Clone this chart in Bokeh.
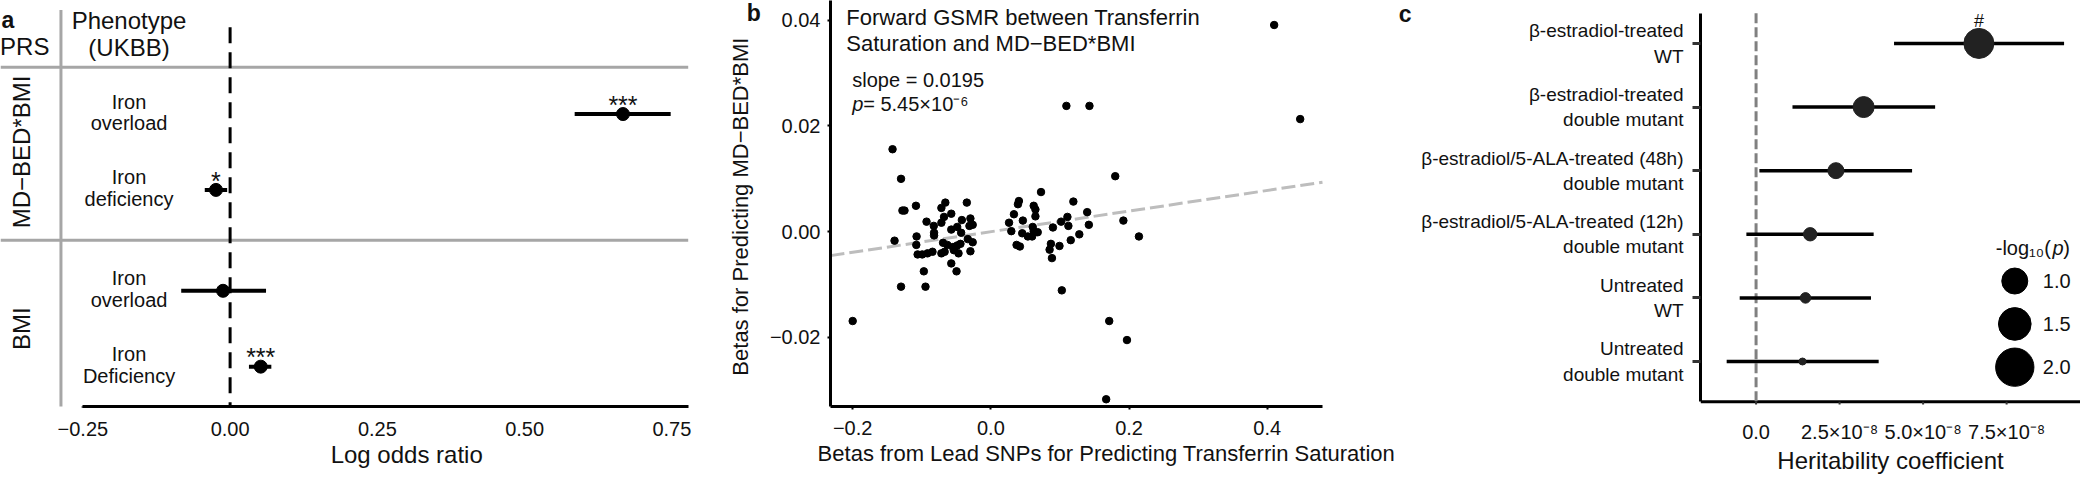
import math
from bokeh.plotting import figure
from bokeh.models import Range1d, FixedTicker, Label, Title
from bokeh.layouts import row
from bokeh.embed import file_html
from bokeh.resources import INLINE
from bokeh.core.properties import value

FONT = "Liberation Sans"
INK = "#111111"
TOTAL_W, TOTAL_H = 2080, 476
SX, SY = TOTAL_W / 2100.0, TOTAL_H / 494.0

# ---------------- Panel a data ----------------
a_prs = ["MD−BED*BMI", "MD−BED*BMI", "BMI", "BMI"]
a_pheno = ["Iron overload", "Iron deficiency", "Iron overload", "Iron Deficiency"]
a_est = [0.667, -0.024, -0.012, 0.052]
a_lo = [0.585, -0.043, -0.083, 0.032]
a_hi = [0.748, -0.005, 0.061, 0.070]
a_sig = ["***", "*", "", "***"]
a_ticks = [-0.25, 0.0, 0.25, 0.50, 0.75]
a_tick_labels = ["−0.25", "0.00", "0.25", "0.50", "0.75"]

# ---------------- Panel b data ----------------
b_x = [-0.1423, -0.130, -0.128, -0.125, -0.1084, -0.1394, -0.1075, -0.1079, -0.106, -0.0993,
       -0.0917, -0.0845, -0.0931, -0.0826, -0.0822, -0.0822, -0.097, -0.130, -0.0946, -0.0659,
       -0.0716, -0.0573, -0.0678, -0.0716, -0.0348, -0.042, -0.0296, -0.031, -0.0263, -0.0573,
       -0.0487, -0.043, -0.0334, -0.0263, -0.0692, -0.063, -0.0549, -0.0487, -0.044, -0.0535,
       -0.0468, -0.0716, -0.0669, -0.0296, -0.0573, -0.0497, -0.200,
       0.1800, 0.0726, 0.0406, 0.0392, 0.0620, 0.0645, 0.0645, 0.0334, 0.0263, 0.0463,
       0.0296, 0.0454, 0.0606, 0.0620, 0.0678, 0.0535, 0.0597, 0.0372, 0.0420, 0.0898,
       0.1017, 0.1108, 0.1122, 0.1194, 0.1394, 0.1418, 0.1280, 0.1156, 0.0869, 0.0850,
       0.0993, 0.0884, 0.1027,
       0.1093, 0.1427, 0.4100, 0.4477, 0.1918, 0.2143, 0.1713, 0.1970, 0.1669]
b_y = [0.0156, 0.0100, 0.0040, 0.0040, 0.0049, -0.0017, -0.0009, -0.0025, -0.0043, -0.0043,
       -0.0041, -0.0038, 0.0019, 0.0011, -0.0002, -0.0007, -0.0075, -0.0104, -0.0104, 0.0055,
       0.0045, 0.0034, 0.0028, 0.0017, 0.0055, 0.0022, 0.0025, 0.0011, 0.0013, 0.0004,
       0.0009, -0.0002, -0.0014, -0.0020, -0.0021, -0.0025, -0.0029, -0.0026, -0.0023, -0.0035,
       -0.0041, -0.0041, -0.0038, -0.0037, -0.0060, -0.0075, -0.0169,
       0.0105, 0.0075, 0.0058, 0.0052, 0.0049, 0.0042, 0.0029, 0.0033, 0.0017, 0.0021,
       0.0001, -0.0003, 0.0009, 0.0001, -0.0001, -0.0009, -0.0009, -0.0025, -0.0028, 0.0008,
       0.0019, 0.0028, 0.0011, 0.0057, 0.0037, 0.0013, -0.0005, -0.0016, -0.0023, -0.0034,
       -0.0027, -0.0050, -0.0111,
       0.0238, 0.0238, 0.0391, 0.0213, 0.0021, -0.0009, -0.0169, -0.0205, -0.0317]
b_slope = 0.0195
b_intercept = 0.0
b_p_text = " = 5.45×10⁻⁶"
b_xticks = [-0.2, 0.0, 0.2, 0.4]
b_xtick_labels = ["−0.2", "0.0", "0.2", "0.4"]
b_yticks = [-0.02, 0.0, 0.02, 0.04]
b_ytick_labels = ["−0.02", "0.00", "0.02", "0.04"]
b_xlabel = "Betas from Lead SNPs for Predicting Transferrin Saturation"
b_ylabel = "Betas for Predicting MD−BED*BMI"

# ---------------- Panel c data (coefficients in units of 1e-8) ----------------
c_groups = ["β-estradiol-treated\nWT",
            "β-estradiol-treated\ndouble mutant",
            "β-estradiol/5-ALA-treated (48h)\ndouble mutant",
            "β-estradiol/5-ALA-treated (12h)\ndouble mutant",
            "Untreated\nWT",
            "Untreated\ndouble mutant"]
c_est = [6.67, 3.22, 2.39, 1.62, 1.48, 1.39]
c_lo = [4.13, 1.09, 0.10, -0.29, -0.49, -0.88]
c_hi = [9.22, 5.36, 4.67, 3.52, 3.44, 3.67]
c_neglog10p = [1.29, 0.69, 0.44, 0.33, 0.23, 0.13]
c_flag = ["#", "", "", "", "", ""]
c_legend_vals = [1.0, 1.5, 2.0]
c_xticks = [0.0, 2.5, 5.0, 7.5]
c_xtick_labels = ["0.0", "2.5×10⁻⁸", "5.0×10⁻⁸", "7.5×10⁻⁸"]


# ---------------- layout helpers (reference-pixel geometry) ----------------
BORDER_BOTTOM = 66
FH = TOTAL_H - BORDER_BOTTOM
FRAME_TOP_REF, FRAME_BOTTOM_REF = 0.0, FH / SY
# figure boundaries (reference px)
A_LEFT, B_LEFT, C_LEFT, RIGHT = 0, 772, 1432, 2100


def fig_geom(left_ref, frame_left_ref, right_ref):
    fl = round(left_ref * SX)
    fr = round(right_ref * SX)
    bl = round(frame_left_ref * SX) - fl
    return fr - fl, bl


def base_style(p):
    p.xgrid.visible = False
    p.ygrid.visible = False
    p.outline_line_color = None
    p.background_fill_color = "white"
    p.border_fill_color = "white"


def style_axis(ax, tick_out=3, standoff=5, label_size="20px"):
    ax.axis_line_color = "black"
    ax.axis_line_width = 3
    ax.major_tick_line_color = "black"
    ax.major_tick_line_width = 2
    ax.major_tick_out = tick_out
    ax.major_tick_in = 0
    ax.minor_tick_line_color = None
    ax.major_label_text_font = FONT
    ax.major_label_text_font_size = label_size
    ax.major_label_text_color = INK
    ax.major_label_standoff = standoff
    ax.axis_label_text_font = FONT
    ax.axis_label_text_font_style = "normal"
    ax.axis_label_text_color = INK


def below_title(p, text, offset, standoff, size):
    p.add_layout(Title(text=text, align="left", offset=offset, standoff=standoff,
                       text_font=FONT, text_font_size=size, text_font_style="normal",
                       text_color=INK), "below")


def label(p, x, y, text, size="20px", align="left", baseline="alphabetic", style="normal"):
    p.add_layout(Label(x=x, y=y, x_units="data", y_units="data", text=text,
                       text_font=FONT, text_font_size=size, text_align=align,
                       text_baseline=baseline, text_font_style=style, text_color=INK))


def gtext(p, x, y, text, size, align="center", style="normal", angle=0.0):
    p.text(x=x, y=y, text=text, text_font=value(FONT), text_font_size=size,
           text_align=align, text_baseline="middle", text_font_style=style,
           text_color=INK, angle=angle)


# ======================= Panel a =======================
def ax_(xr):
    return (xr - 231.7) / 148.6 * 0.25


def ay_(yr):
    return (yr - 119.0) / 79.5 + 1.0


A_UNIT = 79.5
a_row_y = []
pos, prev = 1.0, None
for g in a_prs:
    if prev is not None:
        pos += 1.0 if g == prev else 1.33
    a_row_y.append(pos)
    prev = g
groups = []
for g in a_prs:
    if g not in groups:
        groups.append(g)
group_centers = [sum(y for y, gg in zip(a_row_y, a_prs) if gg == g) /
                 sum(1 for gg in a_prs if gg == g) for g in groups]
group_seps = [a_row_y[0] - 0.616] + [(a_row_y[i] + a_row_y[i + 1]) / 2
                                    for i in range(len(a_prs) - 1) if a_prs[i] != a_prs[i + 1]]

wa, bla = fig_geom(A_LEFT, A_LEFT, B_LEFT)
pa = figure(width=wa, height=TOTAL_H, x_range=Range1d(ax_(A_LEFT), ax_(B_LEFT)),
            y_range=Range1d(ay_(FRAME_BOTTOM_REF), ay_(FRAME_TOP_REF)),
            output_backend="svg", toolbar_location=None, x_axis_location="below",
            y_axis_location=None, min_border_left=bla, min_border_right=0,
            min_border_top=0, min_border_bottom=BORDER_BOTTOM)
base_style(pa)
style_axis(pa.xaxis[0], tick_out=1, standoff=14)
pa.xaxis.ticker = FixedTicker(ticks=a_ticks)
pa.xaxis.major_label_overrides = dict(zip(a_ticks, a_tick_labels))
pa.xaxis.bounds = (a_ticks[0], ax_(694))
pa.xaxis.axis_label = None
below_title(pa, "Log odds ratio", 333.3 * SX, 0, "24px")

pa.segment(x0=[ax_(0)] * len(group_seps), y0=group_seps, x1=[ax_(694)] * len(group_seps),
           y1=group_seps, line_color="#A6A6A6", line_width=3)
pa.segment(x0=[ax_(61)], y0=[ay_(10)], x1=[ax_(61)], y1=[ay_(427)], line_color="#A6A6A6",
           line_width=3)
pa.segment(x0=[0], y0=[ay_(28)], x1=[0], y1=[ay_(FRAME_BOTTOM_REF)], line_color="black",
           line_width=3, line_dash="16 9")
pa.segment(x0=a_lo, y0=a_row_y, x1=a_hi, y1=a_row_y, line_color="black", line_width=4)
pa.scatter(a_est, a_row_y, size=13, color="black")
gtext(pa, a_est, [r - 9.8 / A_UNIT for r in a_row_y], a_sig, "25px")

pheno_x = ax_(129.7)
line1 = [t.split(" ", 1)[0] for t in a_pheno]
line2 = [t.split(" ", 1)[1] for t in a_pheno]
gtext(pa, [pheno_x] * len(a_pheno), [r - 13.0 / A_UNIT for r in a_row_y], line1, "20px")
gtext(pa, [pheno_x] * len(a_pheno), [r + 9.8 / A_UNIT for r in a_row_y], line2, "20px")
gtext(pa, [pheno_x, pheno_x, ax_(24.5)], [ay_(21.3), ay_(48.8), ay_(48.3)],
      ["Phenotype", "(UKBB)", "PRS"], "24px")
gtext(pa, [ax_(21.5)] * len(groups), group_centers, groups, "24px", angle=math.pi / 2)
label(pa, ax_(1), ay_(20), "a", size="23px", style="bold")
# panel b's letter and y-axis title sit left of panel b's axis
gtext(pa, [ax_(753)], [ay_(13.5)], ["b"], "23px", align="left", style="bold")
gtext(pa, [ax_(746.7)], [ay_(216)], [b_ylabel], "22px", angle=math.pi / 2)

# ======================= Panel b =======================
def bx_(xr):
    return (xr - 1000.0) / 139.6 * 0.2


def by_(yr):
    return (242.3 - yr) / 110.8 * 0.02


wb, blb = fig_geom(B_LEFT, 838, C_LEFT)
bx0, bx1 = bx_(838), bx_(1335)
pb = figure(width=wb, height=TOTAL_H, x_range=Range1d(bx0, bx_(C_LEFT)),
            y_range=Range1d(by_(FRAME_BOTTOM_REF), by_(FRAME_TOP_REF)),
            output_backend="svg", toolbar_location=None, min_border_left=blb,
            min_border_right=0, min_border_top=0, min_border_bottom=BORDER_BOTTOM)
base_style(pb)
bxa, bya = pb.xaxis[0], pb.yaxis[0]
style_axis(bxa, tick_out=3, standoff=11)
style_axis(bya, tick_out=3, standoff=7)
bxa.bounds = (bx0, bx1)
bxa.ticker = FixedTicker(ticks=b_xticks)
bxa.major_label_overrides = dict(zip(b_xticks, b_xtick_labels))
bya.ticker = FixedTicker(ticks=b_yticks)
bya.major_label_overrides = dict(zip(b_yticks, b_ytick_labels))
bxa.axis_label = None
bya.axis_label = None
below_title(pb, b_xlabel, (825 - 838) * SX, 3, "22px")

pb.segment(x0=[bx0], y0=[b_intercept + b_slope * bx0], x1=[bx1], y1=[b_intercept + b_slope * bx1],
           line_color="#BDBDBD", line_width=3, line_dash="14 5")
pb.scatter(b_x, b_y, size=7.5, color="black")
label(pb, bx_(854), by_(18.3), "Forward GSMR between Transferrin", size="22px")
label(pb, bx_(854), by_(45.0), "Saturation and MD−BED*BMI", size="22px")
label(pb, bx_(860), by_(83.3), "slope = " + str(b_slope), size="20px")
label(pb, bx_(860), by_(108.3), "p", size="20px", style="italic")
label(pb, bx_(871), by_(108.3), b_p_text, size="20px")
# panel c's letter sits left of panel c's labels
gtext(pb, [bx_(1412)], [by_(14)], ["c"], "23px", align="left", style="bold")

# ======================= Panel c =======================
def cx_(xr):
    return (xr - 1770.7) / 84.77 * 2.5


def cy_(yr):
    return 6.0 - (yr - 45.0) / 66.67


C_UNIT = 66.67
wc, blc = fig_geom(C_LEFT, 1714.3, RIGHT)
wc = TOTAL_W - wa - wb
cx0, cx1 = cx_(1714.3), cx_(RIGHT)
c_axis_y = cy_(420.5)
c_y = [len(c_groups) - i for i in range(len(c_groups))]


def c_size(v):
    return 29.7 * math.sqrt(v) - 3.7


pc = figure(width=wc, height=TOTAL_H, x_range=Range1d(cx0, cx1),
            y_range=Range1d(cy_(FRAME_BOTTOM_REF), cy_(FRAME_TOP_REF)),
            output_backend="svg", toolbar_location=None, min_border_left=blc,
            min_border_right=0, min_border_top=0, min_border_bottom=BORDER_BOTTOM)
base_style(pc)
cxa, cya = pc.xaxis[0], pc.yaxis[0]
style_axis(cxa, tick_out=0, standoff=14)
cxa.axis_line_color = None
cxa.major_tick_line_color = None
style_axis(cya, tick_out=8, standoff=9, label_size="19px")
cya.major_tick_line_width = 3
cya.major_tick_line_color = "#333333"
cya.bounds = (c_axis_y, cy_(13.3))
cya.axis_label = None
cxa.ticker = FixedTicker(ticks=c_xticks)
cxa.major_label_overrides = dict(zip(c_xticks, c_xtick_labels))
cya.ticker = FixedTicker(ticks=c_y)
cya.major_label_overrides = dict(zip(c_y, c_groups))
cxa.axis_label = "Heritability coefficient"
cxa.axis_label_text_font_size = "24px"
cxa.axis_label_standoff = 1

pc.segment(x0=[cx0], y0=[c_axis_y], x1=[cx1], y1=[c_axis_y], line_color="black", line_width=3)
pc.segment(x0=c_xticks, y0=[c_axis_y] * len(c_xticks), x1=c_xticks,
           y1=[c_axis_y - 3.0 / C_UNIT] * len(c_xticks), line_color="#333333", line_width=2)
pc.segment(x0=[0], y0=[cy_(13.3)], x1=[0], y1=[c_axis_y], line_color="#808080", line_width=3,
           line_dash="10 4")
pc.segment(x0=c_lo, y0=c_y, x1=c_hi, y1=c_y, line_color="black", line_width=3.5)
pc.scatter(c_est, c_y, size=[c_size(v) for v in c_neglog10p], fill_color="#222222",
           line_color="#222222")
gtext(pc, c_est, [v + 23.3 / C_UNIT for v in c_y], c_flag, "18px")

# size legend
leg_y_ref = [294.0, 339.0, 384.3]
pc.scatter([cx_(2033.3)] * len(c_legend_vals), [cy_(v) for v in leg_y_ref],
           size=[c_size(v) for v in c_legend_vals], color="black")
for v, yr in zip(c_legend_vals, leg_y_ref):
    label(pc, cx_(2061.7), cy_(yr), "%.1f" % v, size="20px", baseline="middle")
label(pc, cx_(2014), cy_(259.3), "-log₁₀(", size="20px")
label(pc, cx_(2071.5), cy_(259.3), "p", size="20px", style="italic")
label(pc, cx_(2082.5), cy_(259.3), ")", size="20px")

layout = row(pa, pb, pc)
open("out.html", "w").write(file_html(layout, INLINE))
